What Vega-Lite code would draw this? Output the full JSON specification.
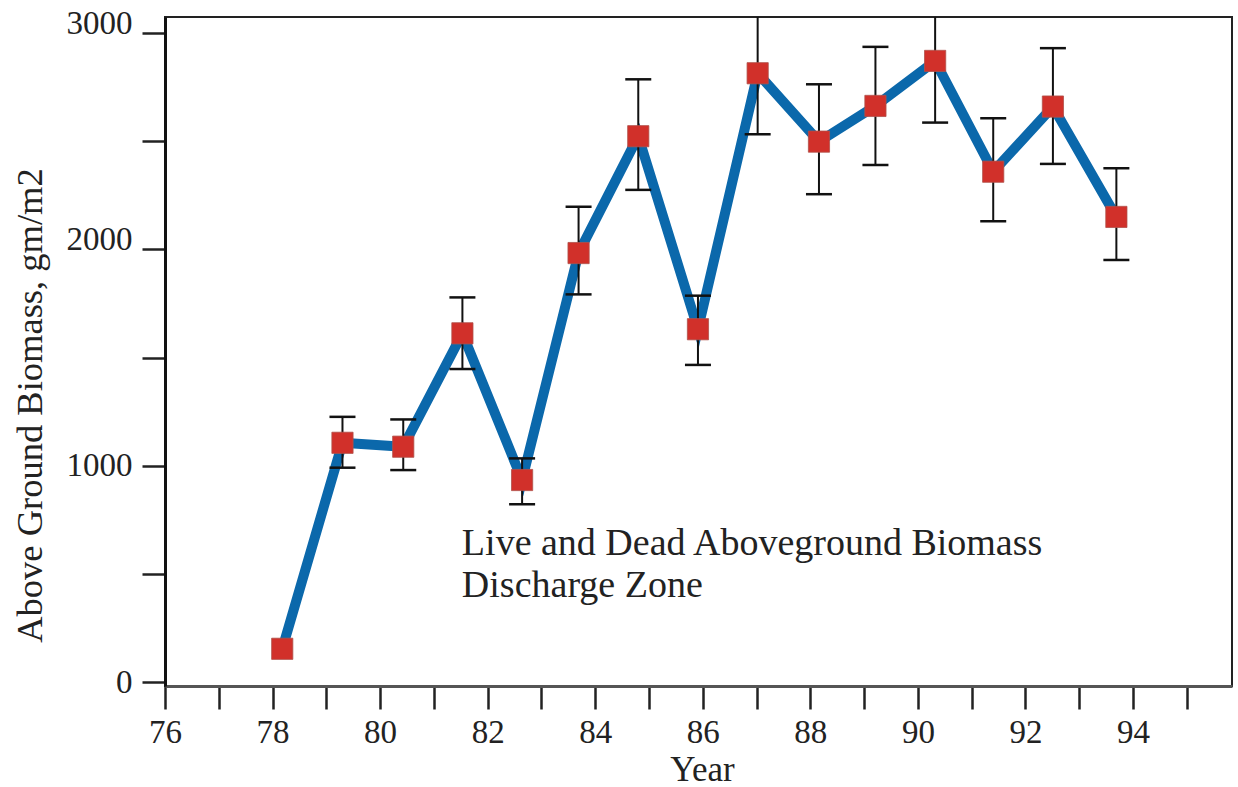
{
  "$schema": "https://vega.github.io/schema/vega-lite/v6.json",
  "autosize": "none",
  "width": 1067,
  "height": 669,
  "padding": {"left": 165, "top": 17, "right": 6, "bottom": 101},
  "background": "white",
  "config": {
    "view": {"stroke": "#222", "strokeWidth": 2},
    "font": "Liberation Serif"
  },
  "data": {
    "values": [
      {"year": 78.18, "biomass": 154},
      {"year": 79.30, "biomass": 1106, "lo": 991, "hi": 1226},
      {"year": 80.43, "biomass": 1088, "lo": 980, "hi": 1214},
      {"year": 81.53, "biomass": 1612, "lo": 1447, "hi": 1778},
      {"year": 82.64, "biomass": 934, "lo": 822, "hi": 1034},
      {"year": 83.69, "biomass": 1983, "lo": 1792, "hi": 2197},
      {"year": 84.80, "biomass": 2523, "lo": 2275, "hi": 2786},
      {"year": 85.91, "biomass": 1631, "lo": 1466, "hi": 1786},
      {"year": 87.02, "biomass": 2814, "lo": 2532, "hi": 3096},
      {"year": 88.16, "biomass": 2498, "lo": 2255, "hi": 2763},
      {"year": 89.21, "biomass": 2663, "lo": 2390, "hi": 2936},
      {"year": 90.32, "biomass": 2871, "lo": 2586, "hi": 3156},
      {"year": 91.40, "biomass": 2359, "lo": 2130, "hi": 2606},
      {"year": 92.51, "biomass": 2660, "lo": 2395, "hi": 2930},
      {"year": 93.69, "biomass": 2150, "lo": 1951, "hi": 2375}
    ]
  },
  "encoding": {
    "x": {
      "field": "year",
      "type": "quantitative",
      "scale": {"domain": [76, 95.84], "nice": false, "zero": false},
      "axis": {
        "title": "Year",
        "titleFont": "Liberation Serif",
        "titleFontSize": 35,
        "titleFontWeight": "normal",
        "titleColor": "#222",
        "titleX": 537,
        "titleY": 94,
        "titleBaseline": "alphabetic",
        "titleAlign": "center",
        "values": [76, 77, 78, 79, 80, 81, 82, 83, 84, 85, 86, 87, 88, 89, 90, 91, 92, 93, 94, 95],
        "format": "d",
        "labelExpr": "datum.value % 2 === 0 && datum.value <= 94 ? datum.label : ''",
        "labelFont": "Liberation Serif",
        "labelFontSize": 33,
        "labelColor": "#222",
        "labelBaseline": "alphabetic",
        "labelPadding": 33,
        "labelFlush": false,
        "labelOverlap": false,
        "tickSize": 23,
        "tickWidth": 2.5,
        "tickColor": "#222",
        "domainColor": "#555",
        "domainWidth": 3,
        "grid": false
      }
    },
    "y": {
      "field": "biomass",
      "type": "quantitative",
      "scale": {"domain": [-18, 3074], "nice": false, "zero": false},
      "axis": {
        "title": "Above Ground Biomass, gm/m2",
        "titleFont": "Liberation Serif",
        "titleFontSize": 36.5,
        "titleFontWeight": "normal",
        "titleColor": "#222",
        "titleAngle": 270,
        "titleX": -124,
        "titleY": 388,
        "titleAlign": "center",
        "titleBaseline": "alphabetic",
        "values": [0, 500, 1000, 1500, 2000, 2500, 3000],
        "format": "d",
        "labelExpr": "datum.value % 1000 === 0 ? datum.label : ''",
        "labelFont": "Liberation Serif",
        "labelFontSize": 33,
        "labelColor": "#222",
        "labelPadding": 10,
        "labelFlush": false,
        "labelOverlap": false,
        "labelOffset": {"condition": {"test": "datum.value >= 2000", "value": -10}, "value": 0},
        "tickSize": 23,
        "tickWidth": 2.5,
        "tickColor": "#222",
        "domainColor": "#111",
        "domainWidth": 3,
        "grid": false
      }
    }
  },
  "layer": [
    {
      "mark": {"type": "line", "color": "#0b68ab", "strokeWidth": 10, "strokeJoin": "miter", "clip": true}
    },
    {
      "transform": [{"filter": "isValid(datum.lo)"}],
      "mark": {"type": "rule", "color": "#111", "strokeWidth": 2, "clip": true},
      "encoding": {
        "y": {"field": "lo", "type": "quantitative"},
        "y2": {"field": "hi"}
      }
    },
    {
      "transform": [{"filter": "isValid(datum.lo)"}],
      "mark": {"type": "tick", "orient": "horizontal", "color": "#111", "size": 26, "thickness": 2.5, "opacity": 1, "clip": true},
      "encoding": {"y": {"field": "lo", "type": "quantitative"}}
    },
    {
      "transform": [{"filter": "isValid(datum.hi)"}],
      "mark": {"type": "tick", "orient": "horizontal", "color": "#111", "size": 26, "thickness": 2.5, "opacity": 1, "clip": true},
      "encoding": {"y": {"field": "hi", "type": "quantitative"}}
    },
    {
      "mark": {"type": "point", "shape": "square", "filled": true, "size": 450, "color": "#d1302a", "opacity": 1, "stroke": "#b0504a", "strokeWidth": 0.8}
    },
    {
      "mark": {
        "type": "text",
        "text": ["Live and Dead Aboveground Biomass", "Discharge Zone"],
        "font": "Liberation Serif",
        "fontSize": 38,
        "lineHeight": 42,
        "align": "left",
        "baseline": "alphabetic",
        "color": "#222"
      },
      "encoding": {
        "x": {"datum": 81.52, "type": "quantitative"},
        "y": {"datum": 587, "type": "quantitative"},
        "opacity": {"condition": {"test": "!isValid(datum.lo)", "value": 1}, "value": 0}
      }
    }
  ]
}
